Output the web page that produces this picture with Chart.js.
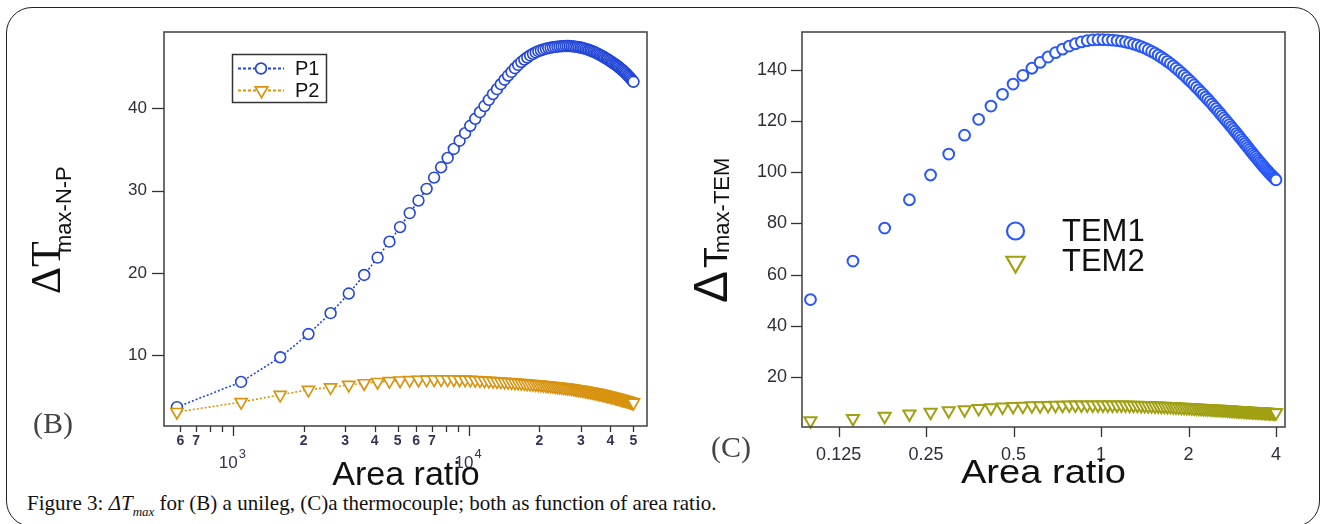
<!DOCTYPE html>
<html><head><meta charset="utf-8">
<script src="https://cdn.jsdelivr.net/npm/chart.js@4.4.1/dist/chart.umd.min.js"></script>
<style>
html,body{margin:0;padding:0;background:#fff;width:1324px;height:524px;overflow:hidden;}
#frame{position:absolute;left:6px;top:7px;width:1314px;height:520px;border:1.3px solid #222;border-radius:26px;box-sizing:border-box;}
#cL{position:absolute;left:0;top:0;}
#cR{position:absolute;left:662px;top:0;}
#cap{position:absolute;left:27px;top:493px;font-family:'Liberation Serif',serif;font-size:21px;line-height:21px;white-space:nowrap;color:#111;}
#cap .sub{font-size:13px;position:relative;top:6px;}
</style></head><body>
<div id="frame"></div>
<canvas id="cL" width="662" height="490"></canvas>
<canvas id="cR" width="662" height="490"></canvas>
<div id="cap">Figure 3: <i>ΔT</i><i class="sub">max</i> for (B) a unileg, (C)a thermocouple; both as function of area ratio.</div>
<script>
// ---------- data: panel (B) ----------
const xB = [580,1085,1590,2095,2600,3105,3610,4115,4620,5125,5630,6135,6640,7145,7650,8155,8660,9165,9670,10175,10680,11185,11690,12195,12700,13205,13710,14215,14720,15225,15730,16235,16740,17245,17750,18255,18760,19265,19770,20275,20780,21285,21790,22295,22800,23305,23810,24315,24820,25325,25830,26335,26840,27345,27850,28355,28860,29365,29870,30375,30880,31385,31890,32395,32900,33405,33910,34415,34920,35425,35930,36435,36940,37445,37950,38455,38960,39465,39970,40475,40980,41485,41990,42495,43000,43505,44010,44515,45020,45525,46030,46535,47040,47545,48050,48555,49060,49565,50070];
const P1 = [3.70,6.76,9.75,12.58,15.12,17.50,19.76,21.87,23.81,25.58,27.28,28.80,30.23,31.60,32.85,33.99,35.08,36.08,37.00,37.90,38.75,39.55,40.30,41.05,41.75,42.35,42.95,43.50,44.00,44.45,44.90,45.30,45.65,45.95,46.20,46.45,46.65,46.82,46.97,47.08,47.18,47.27,47.34,47.40,47.45,47.49,47.52,47.55,47.57,47.58,47.59,47.59,47.59,47.57,47.55,47.52,47.49,47.45,47.41,47.36,47.31,47.25,47.19,47.12,47.05,46.98,46.90,46.82,46.73,46.64,46.55,46.46,46.36,46.26,46.16,46.06,45.96,45.86,45.76,45.65,45.55,45.44,45.34,45.23,45.12,45.01,44.89,44.77,44.65,44.52,44.39,44.26,44.12,43.98,43.84,43.70,43.55,43.40,43.25];
const P2 = [3.10,4.30,5.19,5.80,6.10,6.40,6.60,6.75,6.85,6.93,6.98,7.02,7.04,7.06,7.07,7.07,7.06,7.05,7.03,7.01,6.98,6.95,6.92,6.89,6.86,6.83,6.80,6.77,6.74,6.71,6.68,6.65,6.62,6.59,6.56,6.53,6.50,6.47,6.44,6.41,6.38,6.35,6.32,6.29,6.26,6.23,6.20,6.17,6.14,6.10,6.07,6.04,6.00,5.97,5.94,5.90,5.87,5.83,5.80,5.76,5.73,5.69,5.65,5.62,5.58,5.54,5.50,5.46,5.43,5.39,5.35,5.31,5.27,5.23,5.19,5.15,5.11,5.07,5.03,4.99,4.95,4.91,4.87,4.83,4.79,4.75,4.71,4.67,4.63,4.59,4.55,4.51,4.47,4.43,4.39,4.35,4.31,4.27,4.23];
const seriesB = ['P1','P2'];
const xTicksB = [600,700,800,900,1000,2000,3000,4000,5000,6000,7000,8000,9000,10000,20000,30000,40000,50000];
const xTickLabelsB = ['6','7','','','','2','3','4','5','6','7','','','','2','3','4','5'];
const decadeTicksB = [1000,10000];
const decadeExpB = ['3','4'];
const yTicksB = [10,20,30,40];

// ---------- data: panel (C) ----------
const xC = [0.100,0.140,0.180,0.219,0.259,0.299,0.339,0.379,0.418,0.458,0.498,0.538,0.578,0.617,0.657,0.697,0.737,0.777,0.816,0.856,0.896,0.936,0.976,1.015,1.055,1.095,1.135,1.175,1.214,1.254,1.294,1.334,1.374,1.413,1.453,1.493,1.533,1.573,1.612,1.652,1.692,1.732,1.772,1.811,1.851,1.891,1.931,1.971,2.010,2.050,2.090,2.130,2.170,2.209,2.249,2.289,2.329,2.369,2.408,2.448,2.488,2.528,2.568,2.607,2.647,2.687,2.727,2.767,2.806,2.846,2.886,2.926,2.966,3.005,3.045,3.085,3.125,3.165,3.204,3.244,3.284,3.324,3.364,3.403,3.443,3.483,3.523,3.563,3.602,3.642,3.682,3.722,3.762,3.801,3.841,3.881,3.921,3.961,4.000];
const TEM1 = [50.2,65.3,78.2,89.3,99.0,107.2,114.6,120.8,126.0,130.6,134.6,138.0,140.8,143.1,145.2,146.9,148.3,149.5,150.4,151.1,151.6,151.9,152.0,152.0,151.94,151.82,151.64,151.39,151.08,150.72,150.29,149.82,149.28,148.70,148.07,147.40,146.69,145.94,145.15,144.34,143.50,142.63,141.75,140.84,139.92,138.99,138.05,137.10,136.15,135.20,134.25,133.30,132.35,131.41,130.47,129.53,128.62,127.70,126.77,125.85,124.94,124.03,123.13,122.23,121.34,120.46,119.59,118.72,117.86,117.01,116.17,115.33,114.51,113.69,112.88,112.08,111.29,110.51,109.74,108.98,108.23,107.49,106.76,106.04,105.33,104.64,103.97,103.31,102.66,102.03,101.42,100.83,100.25,99.68,99.13,98.60,98.08,97.58,97.10];
const TEM2 = [2.7,3.6,4.5,5.4,6.1,6.7,7.1,7.5,7.85,8.15,8.35,8.45,8.58,8.67,8.73,8.79,8.83,8.87,8.9,8.92,8.94,8.95,8.95,8.95,8.94,8.93,8.92,8.91,8.89,8.86,8.82,8.78,8.73,8.69,8.64,8.6,8.56,8.51,8.46,8.41,8.35,8.3,8.24,8.18,8.12,8.06,8.0,7.94,7.89,7.83,7.78,7.73,7.68,7.63,7.58,7.54,7.49,7.44,7.39,7.35,7.3,7.26,7.21,7.17,7.12,7.07,7.02,6.98,6.93,6.88,6.83,6.79,6.74,6.7,6.66,6.62,6.58,6.55,6.51,6.48,6.44,6.41,6.37,6.34,6.3,6.27,6.23,6.2,6.17,6.14,6.11,6.08,6.05,6.02,5.99,5.96,5.93,5.91,5.9];
const seriesC = ['TEM1','TEM2'];
const xTicksC = [0.125,0.25,0.5,1,2,4];
const xTickLabelsC = ['0.125','0.25','0.5','1','2','4'];
const yTicksC = [20,40,60,80,100,120,140];

// ---------- styles ----------
const BLUE_B = '#2346d6', ORANGE = '#d8930f', BLUE_C = '#2a58f7', OLIVE = '#a0a012';
const SANS = '"Liberation Sans", Arial, sans-serif';
const SERIF = '"Liberation Serif", "Times New Roman", serif';

function pts(xs, ys){ return xs.map((x,i)=>({x:x, y:ys[i]})); }

function triPath(ctx, x, y, r){
  ctx.beginPath();
  ctx.moveTo(x, y + r);
  ctx.lineTo(x - 0.866*r, y - 0.5*r);
  ctx.lineTo(x + 0.866*r, y - 0.5*r);
  ctx.closePath();
}

function decoPlugin(o){
  return {
    id:'deco',
    afterDraw(chart){
      const ctx = chart.ctx, a = chart.chartArea, xs = chart.scales.x, ys = chart.scales.y;
      ctx.save();
      ctx.strokeStyle = '#4a4a4a'; ctx.lineWidth = 1.6;
      ctx.strokeRect(a.left, a.top, a.right - a.left, a.bottom - a.top);
      ctx.strokeStyle = '#333'; ctx.lineWidth = 1.3;
      o.xTicks.forEach(v=>{
        const px = Math.round(xs.getPixelForValue(v)) + 0.5;
        const len = o.majorX.includes(v) ? o.majorLen : o.minorLen;
        ctx.beginPath(); ctx.moveTo(px, a.bottom); ctx.lineTo(px, a.bottom + len); ctx.stroke();
      });
      o.yTicks.forEach(v=>{
        const py = Math.round(ys.getPixelForValue(v)) + 0.5;
        ctx.beginPath(); ctx.moveTo(a.left - o.yLen, py); ctx.lineTo(a.left, py); ctx.stroke();
      });
      o.extra(ctx, chart);
      ctx.restore();
    }
  };
}

function opts(o){
  return {
    responsive:false, animation:false, devicePixelRatio:1,
    layout:{padding:{left:0, top:32, right:o.padRight, bottom:0}},
    plugins:{legend:{display:false}, tooltip:{enabled:false}},
    scales:{
      x:{type:'logarithmic', position:'bottom', min:o.xmin, max:o.xmax,
        afterFit:s=>{ s.height = o.xH; },
        afterBuildTicks:s=>{ s.ticks = o.xTicks.map(v=>({value:v})); },
        grid:{display:false, drawTicks:false, tickLength:0}, border:{display:false},
        ticks:{autoSkip:false, maxRotation:0, minRotation:0, padding:o.xPad, color:o.xColor,
          font:{family:SANS, size:o.xFont, weight:o.xWeight}, callback:(v,i)=>o.xLabels[i]}
      },
      y:{type:'linear', position:'left', min:o.ymin, max:o.ymax,
        afterFit:s=>{ s.width = o.yW; },
        afterBuildTicks:s=>{ s.ticks = o.yTicks.map(v=>({value:v})); },
        grid:{display:false, drawTicks:false, tickLength:0}, border:{display:false},
        ticks:{padding:o.yPad, color:'#2e2e3a', font:{family:SANS, size:o.yFont}}
      }
    }
  };
}

// ---------- left chart (B) ----------
new Chart(document.getElementById('cL'), {
  type:'scatter',
  data:{datasets:[
    {label:seriesB[1], data:pts(xB,P2), showLine:true, borderColor:ORANGE, borderWidth:1.6, borderDash:[2,2],
     pointStyle:'triangle', rotation:180, pointRadius:7, pointBorderWidth:1.7,
     pointBorderColor:ORANGE, pointBackgroundColor:'#ffffff', clip:false},
    {label:seriesB[0], data:pts(xB,P1), showLine:true, borderColor:BLUE_B, borderWidth:1.6, borderDash:[2,2],
     pointStyle:'circle', pointRadius:5.4, pointBorderWidth:1.6,
     pointBorderColor:BLUE_B, pointBackgroundColor:'#ffffff', clip:false}
  ]},
  options:opts({padRight:15, xmin:511, xmax:57150, xH:64, xTicks:xTicksB, xLabels:xTickLabelsB,
    xPad:7, xColor:'#333355', xFont:14, xWeight:'bold', ymin:1.4, ymax:49.3, yW:164, yTicks:yTicksB, yPad:17, yFont:17}),
  plugins:[decoPlugin({xTicks:xTicksB, majorX:decadeTicksB, majorLen:10, minorLen:6, yTicks:yTicksB, yLen:12,
    extra:(ctx, chart)=>{
      const xs = chart.scales.x;
      ctx.fillStyle = '#333355'; ctx.textAlign = 'left'; ctx.textBaseline = 'alphabetic';
      decadeTicksB.forEach((v,i)=>{
        const px = xs.getPixelForValue(v);
        ctx.font = '17px ' + SANS;
        ctx.fillText('10', px - 14, 468);
        const w = ctx.measureText('10').width;
        ctx.font = '13px ' + SANS;
        ctx.fillText(decadeExpB[i], px - 14 + w + 1, 458);
      });
      ctx.fillStyle = '#111'; ctx.font = '34px ' + SANS; ctx.textAlign = 'center';
      ctx.fillText('Area ratio', 406, 485);
      ctx.fillStyle = '#444'; ctx.font = '30px ' + SERIF; ctx.textAlign = 'left';
      ctx.fillText('(B)', 33, 433);
      ctx.save(); ctx.rotate(-Math.PI/2); ctx.fillStyle = '#111';
      ctx.font = '42px ' + SERIF; ctx.fillText('ΔT', -294, 60);
      ctx.font = '22px ' + SANS; ctx.fillText('max-N-P', -253, 71);
      ctx.restore();
      ctx.strokeStyle = '#333'; ctx.lineWidth = 1.5;
      ctx.strokeRect(232.5, 54.5, 94, 48);
      const rows = [{y:68.5, c:BLUE_B, t:seriesB[0], s:'circle'}, {y:90.5, c:ORANGE, t:seriesB[1], s:'tri'}];
      rows.forEach(r=>{
        ctx.strokeStyle = r.c; ctx.lineWidth = 1.8; ctx.setLineDash([3,2]);
        ctx.beginPath(); ctx.moveTo(238, r.y); ctx.lineTo(284, r.y); ctx.stroke();
        ctx.setLineDash([]);
        ctx.fillStyle = '#fff'; ctx.lineWidth = 1.7;
        if (r.s === 'circle'){ ctx.beginPath(); ctx.arc(261, r.y, 5.4, 0, Math.PI*2); ctx.fill(); ctx.stroke(); }
        else { triPath(ctx, 261.5, r.y, 7.2); ctx.fill(); ctx.stroke(); }
        ctx.fillStyle = '#111'; ctx.font = '20px ' + SANS; ctx.textAlign = 'left'; ctx.textBaseline = 'middle';
        ctx.fillText(r.t, 295, r.y + 1);
      });
    }})]
});

// ---------- right chart (C) ----------
new Chart(document.getElementById('cR'), {
  type:'scatter',
  data:{datasets:[
    {label:seriesC[1], data:pts(xC,TEM2), showLine:false,
     pointStyle:'triangle', rotation:180, pointRadius:7, pointBorderWidth:2,
     pointBorderColor:OLIVE, pointBackgroundColor:'#ffffff', clip:false},
    {label:seriesC[0], data:pts(xC,TEM1), showLine:false,
     pointStyle:'circle', pointRadius:5.4, pointBorderWidth:2,
     pointBorderColor:BLUE_C, pointBackgroundColor:'#ffffff', clip:false}
  ]},
  options:opts({padRight:39, xmin:0.0935, xmax:4.296, xH:63, xTicks:xTicksC, xLabels:xTickLabelsC,
    xPad:17, xColor:'#2e2e3a', xFont:18, xWeight:'normal', ymin:0.3, ymax:155, yW:140, yTicks:yTicksC, yPad:15, yFont:18}),
  plugins:[decoPlugin({xTicks:xTicksC, majorX:xTicksC, majorLen:10, minorLen:10, yTicks:yTicksC, yLen:11,
    extra:(ctx, chart)=>{
      ctx.save(); ctx.translate(381.5, 483); ctx.scale(1.12, 1);
      ctx.fillStyle = '#111'; ctx.font = '34px ' + SANS; ctx.textAlign = 'center'; ctx.textBaseline = 'alphabetic';
      ctx.fillText('Area ratio', 0, 0);
      ctx.restore();
      ctx.fillStyle = '#444'; ctx.font = '30px ' + SERIF; ctx.textAlign = 'left'; ctx.textBaseline = 'alphabetic';
      ctx.fillText('(C)', 49, 457);
      ctx.save(); ctx.rotate(-Math.PI/2); ctx.fillStyle = '#111';
      ctx.font = '48px ' + SANS; ctx.fillText('Δ', -303, 65);
      ctx.font = '34px ' + SANS; ctx.fillText('T', -268, 65);
      ctx.font = '22px ' + SANS; ctx.fillText('max-TEM', -253, 67);
      ctx.restore();
      ctx.lineWidth = 2.2;
      ctx.strokeStyle = BLUE_C; ctx.beginPath(); ctx.arc(353.5, 231, 8.5, 0, Math.PI*2); ctx.stroke();
      ctx.strokeStyle = OLIVE; triPath(ctx, 353.5, 262, 10.5); ctx.stroke();
      ctx.fillStyle = '#111'; ctx.font = '31px ' + SANS; ctx.textAlign = 'left'; ctx.textBaseline = 'alphabetic';
      ctx.fillText(seriesC[0], 400, 241);
      ctx.fillText(seriesC[1], 400, 271);
    }})]
});
</script>
</body></html>
